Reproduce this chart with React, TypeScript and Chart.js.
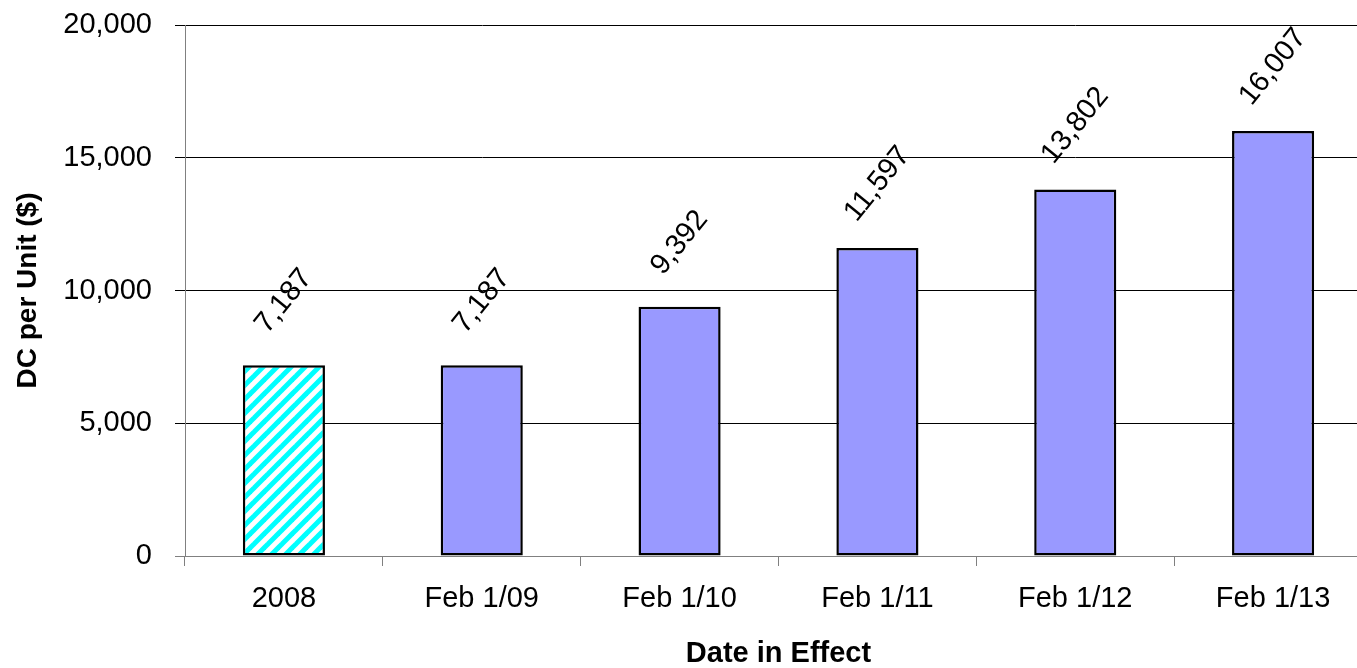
import React, { useEffect, useRef } from "react";
import { Chart, registerables } from "chart.js";

Chart.register(...registerables);

const categories = ["2008", "Feb 1/09", "Feb 1/10", "Feb 1/11", "Feb 1/12", "Feb 1/13"];
const values = [7187, 7187, 9392, 11597, 13802, 16007];
const yTicks = [0, 5000, 10000, 15000, 20000];

const FONT = "'Liberation Sans', Arial, Helvetica, sans-serif";

function makeHatch(): CanvasPattern | string {
  const c = document.createElement("canvas");
  const s = 14;
  c.width = s;
  c.height = s;
  const g = c.getContext("2d");
  if (!g) return "#00FFFF";
  g.fillStyle = "#FFFFFF";
  g.fillRect(0, 0, s, s);
  g.strokeStyle = "#00FFFF";
  g.lineWidth = 5;
  g.lineCap = "square";
  const seg = (x1: number, y1: number, x2: number, y2: number) => {
    g.beginPath();
    g.moveTo(x1, y1);
    g.lineTo(x2, y2);
    g.stroke();
  };
  seg(-s, s, s, -s);
  seg(0, s, s, 0);
  seg(0, 2 * s, 2 * s, 0);
  const p = g.createPattern(c, "repeat");
  return p || "#00FFFF";
}

const labelPlugin = {
  id: "rotLabels",
  afterDatasetsDraw(chart: any) {
    const ctx = chart.ctx;
    const meta = chart.getDatasetMeta(0);
    ctx.save();
    ctx.fillStyle = "#000";
    ctx.font = `29px ${FONT}`;
    ctx.textAlign = "center";
    ctx.textBaseline = "middle";
    meta.data.forEach((el: any, i: number) => {
      ctx.save();
      ctx.translate(el.x, el.y - 64);
      ctx.rotate((-51 * Math.PI) / 180);
      ctx.fillText(values[i].toLocaleString("en-US"), 0, 0);
      ctx.restore();
    });
    ctx.restore();
  },
};

export default function App() {
  const ref = useRef<HTMLCanvasElement | null>(null);

  useEffect(() => {
    if (!ref.current) return;
    const hatch = makeHatch();
    const bg = values.map((_, i) => (i === 0 ? hatch : "#9999FF"));
    const chart = new Chart(ref.current, {
      type: "bar",
      data: {
        labels: categories,
        datasets: [
          {
            data: values,
            backgroundColor: bg as any,
            borderColor: "#000000",
            borderWidth: 2.5,
            borderSkipped: false,
            categoryPercentage: 1,
            barPercentage: 0.415,
          },
        ],
      },
      options: {
        animation: false,
        responsive: false,
        layout: { padding: { top: 25, right: 0, bottom: 0, left: 0 } },
        plugins: {
          legend: { display: false },
          tooltip: { enabled: false },
        },
        scales: {
          x: {
            offset: true,
            grid: {
              offset: true,
              drawOnChartArea: false,
              drawTicks: true,
              tickLength: 10,
              color: "#808080",
              lineWidth: 1,
            },
            border: { color: "#808080", width: 1 },
            ticks: {
              color: "#000",
              font: { family: FONT, size: 29 },
              padding: 16,
              maxRotation: 0,
              autoSkip: false,
            },
            title: {
              display: true,
              text: "Date in Effect",
              color: "#000",
              font: { family: FONT, size: 29, weight: "bold", lineHeight: 1 },
              padding: { top: 0, bottom: 0 },
            },
            afterFit(scale: any) {
              scale.height = 112;
              scale.paddingLeft = 0;
              scale.paddingRight = 0;
            },
          },
          y: {
            min: 0,
            max: 20000,
            afterBuildTicks(scale: any) {
              scale.ticks = yTicks.map((v) => ({ value: v }));
            },
            grid: {
              color: (c: any) => (c.tick && c.tick.value === 0 ? "#808080" : "#000000"),
              tickColor: (c: any) => (c.tick && c.tick.value === 0 ? "#808080" : "#000000"),
              lineWidth: 1,
              drawTicks: true,
              tickLength: 10,
            },
            border: { color: "#808080", width: 1 },
            ticks: {
              color: "#000",
              font: { family: FONT, size: 29 },
              padding: 23,
              callback: (v: any) => Number(v).toLocaleString("en-US"),
            },
            title: {
              display: true,
              text: "DC per Unit ($)",
              color: "#000",
              font: { family: FONT, size: 28, weight: "bold", lineHeight: 1 },
              padding: { top: 14, bottom: 0 },
            },
            afterFit(scale: any) {
              scale.width = 185;
              scale.paddingTop = 0;
              scale.paddingBottom = 0;
            },
          },
        },
      },
      plugins: [labelPlugin],
    });
    return () => chart.destroy();
  }, []);

  return (
    <div
      style={{
        position: "fixed",
        left: 0,
        top: 0,
        width: 1357,
        height: 668,
        overflow: "hidden",
        background: "#fff",
      }}
    >
      <canvas ref={ref} width={1372} height={668} style={{ display: "block" }} />
    </div>
  );
}
